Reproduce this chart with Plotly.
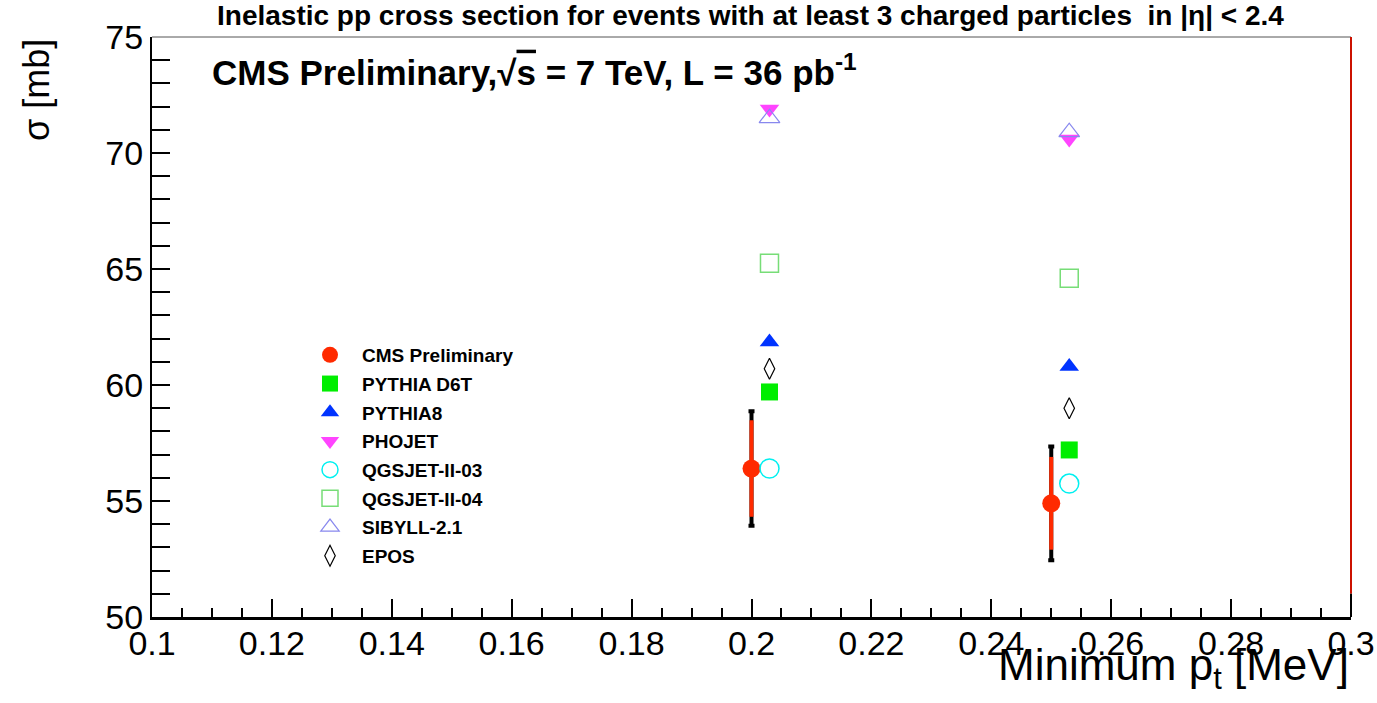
import plotly.graph_objects as go

# Minimum transverse-momentum thresholds (the MC points are shifted slightly right for visibility)
pt_data = [0.200, 0.250]
pt_mc = [0.203, 0.253]

# Measured inelastic cross section [mb]
cms_sigma = [56.4, 54.9]
cms_err_inner = [2.08, 2.0]
cms_err_total = [2.47, 2.45]

# Model predictions [mb]
pythia_d6t = [59.7, 57.2]
pythia8 = [61.85, 60.8]
phojet = [71.9, 70.6]
qgsjet_03 = [56.4, 55.75]
qgsjet_04 = [65.25, 64.6]
sibyll = [71.5, 70.9]
epos = [60.7, 59.0]

FONT = "Liberation Sans, Arial, Helvetica, sans-serif"

fig = go.Figure()

# total uncertainty (black ends) drawn under the inner (red) uncertainty
fig.add_trace(go.Scatter(
    x=pt_data, y=cms_sigma, mode="markers", showlegend=False, hoverinfo="skip",
    marker=dict(size=1, color="rgba(0,0,0,0)"),
    error_y=dict(type="data", array=cms_err_total, color="black", thickness=4, width=3),
))

models = [
    ("PYTHIA D6T", pythia_d6t, "square", "#00ee00", 17, None),
    ("PYTHIA8", pythia8, "triangle-up", "#0033ff", 17, None),
    ("PHOJET", phojet, "triangle-down", "#ff44ff", 17, None),
    ("QGSJET-II-03", qgsjet_03, "circle-open", "#00f0f0", 19, 1.5),
    ("QGSJET-II-04", qgsjet_04, "square-open", "#77dd77", 18, 1.5),
    ("SIBYLL-2.1", sibyll, "triangle-up-open", "#8888ee", 18, 1.2),
    ("EPOS", epos, "diamond-tall-open", "#000000", 15, 1.2),
]

fig.add_trace(go.Scatter(
    x=pt_data, y=cms_sigma, mode="markers", name="CMS Preliminary", legendgroup="cms",
    marker=dict(symbol="circle", size=18, color="#ff2a00"),
    error_y=dict(type="data", array=cms_err_inner, color="#ff2a00", thickness=4, width=0),
))

for name, vals, sym, col, size, lw in models:
    marker = dict(symbol=sym, size=size, color=col)
    if lw is not None:
        marker["line"] = dict(color=col, width=lw)
    fig.add_trace(go.Scatter(x=pt_mc, y=vals, mode="markers", name=name,
                             legendgroup=name, marker=marker))

PLOT_TOP, PLOT_BOTTOM, PLOT_LEFT, PLOT_RIGHT = 37, 617, 152, 1351
PH = PLOT_BOTTOM - PLOT_TOP
PW = PLOT_RIGHT - PLOT_LEFT

fig.update_layout(
    width=1377, height=703,
    margin=dict(l=PLOT_LEFT, r=1377 - PLOT_RIGHT, t=PLOT_TOP, b=703 - PLOT_BOTTOM),
    paper_bgcolor="white", plot_bgcolor="white",
    font=dict(family=FONT, color="black"),
    showlegend=True,
    legend=dict(
        x=(298 - PLOT_LEFT) / PW, y=1 - (336 - PLOT_TOP) / PH, xanchor="left", yanchor="top",
        bgcolor="rgba(0,0,0,0)", traceorder="grouped", tracegroupgap=1, itemwidth=54,
        font=dict(family=FONT, size=19, color="black", weight="bold"),
        itemsizing="trace",
    ),
    xaxis=dict(
        range=[0.1, 0.3], dtick=0.02, tick0=0.1, showgrid=False, zeroline=False,
        automargin=False,
        ticks="inside", ticklen=18, tickwidth=1.5, tickcolor="black",
        minor=dict(dtick=0.005, ticks="inside", ticklen=9, tickcolor="black", tickwidth=1.5),
        showline=True, linecolor="black", linewidth=3,
        tickfont=dict(family=FONT, size=34, color="black"),
        ticklabelstandoff=-6,
    ),
    yaxis=dict(
        range=[50, 75], dtick=5, showgrid=False, zeroline=False,
        automargin=False,
        ticks="inside", ticklen=18, tickwidth=1.5, tickcolor="black",
        minor=dict(dtick=1, ticks="inside", ticklen=18, tickcolor="black", tickwidth=1.5),
        showline=True, linecolor="black", linewidth=2,
        tickfont=dict(family=FONT, size=34, color="black"),
    ),
    shapes=[
        dict(type="line", xref="paper", yref="paper", x0=0, x1=1, y0=1, y1=1,
             line=dict(color="#555555", width=1)),
        dict(type="line", xref="paper", yref="paper", x0=1, x1=1, y0=0.04, y1=1,
             line=dict(color="#cc1100", width=2)),
        dict(type="line", xref="paper", yref="paper", x0=1, x1=1, y0=0, y1=0.04,
             line=dict(color="black", width=2)),
    ],
    annotations=[
        dict(text="<b>Inelastic pp cross section for events with at least 3 charged particles  in |η| &lt; 2.4</b>",
             xref="paper", yref="paper", x=(750 - PLOT_LEFT) / PW, y=1.0, xanchor="center", yanchor="middle",
             yshift=PLOT_TOP - 15, showarrow=False, font=dict(family=FONT, size=28, color="black")),
        dict(text="<b>CMS Preliminary,√<span style='text-decoration:overline'>s</span> = 7 TeV, L = 36 pb<sup>-1</sup></b>",
             xref="paper", yref="paper", x=(210 - PLOT_LEFT) / PW, y=1 - (70 - PLOT_TOP) / PH,
             xanchor="left", yanchor="middle", showarrow=False,
             font=dict(family=FONT, size=35, color="black")),
        dict(text="Minimum p<sub>t</sub> [MeV]", xref="paper", yref="paper",
             x=1.0, y=-(668 - PLOT_BOTTOM) / PH, xanchor="right", yanchor="middle",
             showarrow=False, font=dict(family=FONT, size=44, color="black")),
        dict(text="σ [mb]", xref="paper", yref="paper", textangle=-90,
             x=(36 - PLOT_LEFT) / PW, y=1.0, xanchor="center", yanchor="top",
             showarrow=False, font=dict(family=FONT, size=36, color="black")),
    ],
)

fig.write_html("out.html")
